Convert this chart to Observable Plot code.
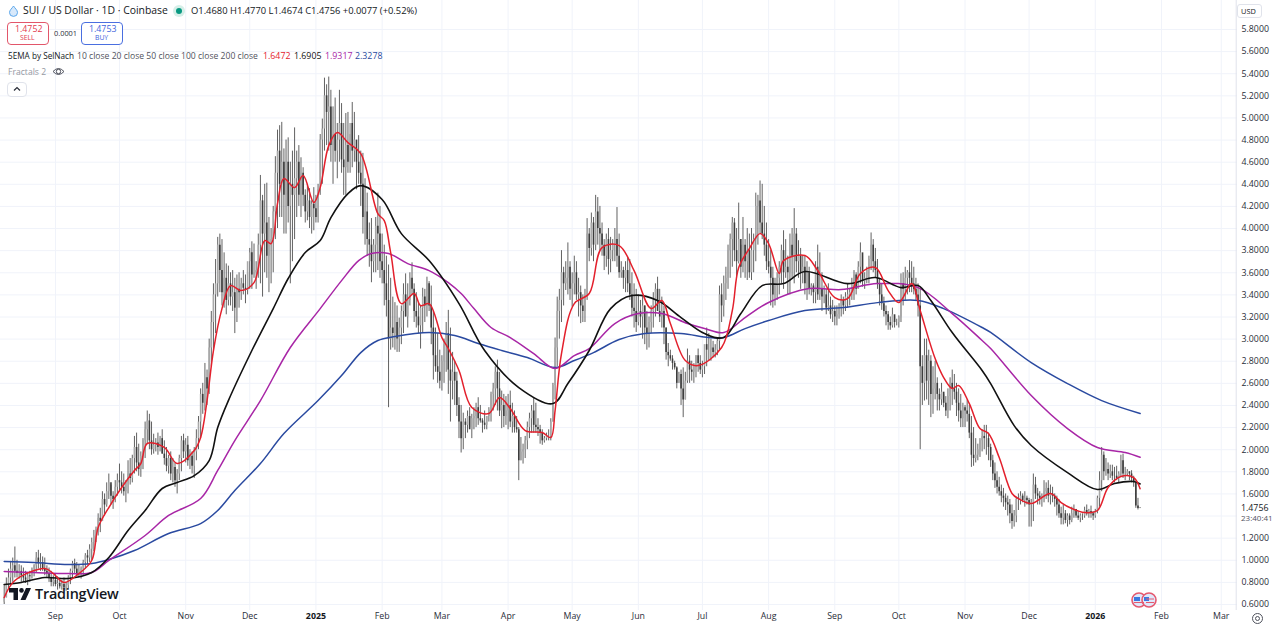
<!DOCTYPE html>
<html><head><meta charset="utf-8">
<script src="https://cdn.jsdelivr.net/npm/d3@7"></script>
<script src="https://cdn.jsdelivr.net/npm/@observablehq/plot@0.6"></script>
<style>
html,body{margin:0;padding:0;background:#fff;width:1280px;height:630px;overflow:hidden}
#wrap{position:relative;width:1280px;height:630px;font-family:"Open Sans","Noto Sans",sans-serif;color:#131722}
#wrap svg.plot{position:absolute;left:0;top:0}
.t{position:absolute;white-space:nowrap;line-height:1}
.box{position:absolute;box-sizing:border-box;border-radius:4px;background:#fff;text-align:center}
</style></head><body><div id="wrap"></div>
<script>
const firstDay = "2024-08-08";
const high = [
.78,.84,.92,.99,1.02,1.12,1.00,.96,.95,.93,
.90,.88,.90,.93,.96,1.07,1.09,1.06,1.03,1.02,
.95,.93,.90,.86,.87,.85,.83,.82,.84,.80,
.86,.92,.99,1.01,.98,.96,.94,1.00,1.06,1.09,
1.14,1.20,1.27,1.30,1.42,1.47,1.62,1.60,1.70,1.78,
1.68,1.62,1.72,1.78,1.87,1.80,1.78,1.72,1.90,1.92,
1.95,2.12,2.15,2.05,1.98,2.10,2.25,2.35,2.32,2.25,
2.14,2.10,2.15,2.12,2.18,2.08,2.02,1.95,1.98,1.92,
1.88,1.82,1.95,2.12,2.14,2.10,2.12,2.00,1.98,2.02,
2.18,2.30,2.55,2.60,2.78,2.72,3.00,3.25,3.50,3.72,
3.92,3.95,3.90,3.78,3.68,3.66,3.60,3.62,3.55,3.58,
3.60,3.55,3.62,3.58,3.60,3.82,3.88,3.86,3.70,3.95,
4.48,4.30,4.40,4.41,4.10,4.00,4.20,4.65,4.89,4.93,
4.96,4.72,4.80,4.82,4.60,4.70,4.91,4.70,4.75,4.64,
4.55,4.35,4.40,4.36,4.25,4.37,4.30,4.40,4.85,4.99,
5.36,5.30,5.37,5.25,5.10,5.18,4.95,5.25,5.13,4.95,
5.04,5.05,4.85,5.14,5.05,4.70,4.84,4.70,4.68,4.45,
4.32,4.05,4.09,3.90,4.10,4.32,4.20,3.95,3.85,3.75,
3.67,3.55,3.38,3.33,3.30,3.19,3.30,3.50,3.59,3.50,
3.60,3.69,3.50,3.42,3.33,3.30,3.46,3.45,3.56,3.52,
3.48,3.25,3.10,3.05,2.90,2.85,3.00,3.15,3.26,3.10,
2.88,2.80,2.70,2.47,2.40,2.33,2.28,2.35,2.38,2.32,
2.38,2.42,2.47,2.40,2.28,2.35,2.30,2.38,2.52,2.60,
2.75,2.81,2.70,2.53,2.50,2.48,2.50,2.53,2.42,2.35,
2.30,2.20,2.11,2.05,2.12,2.25,2.33,2.40,2.47,2.42,
2.28,2.22,2.18,2.12,2.15,2.18,2.28,2.60,3.01,3.38,
3.45,3.80,3.65,3.70,3.87,3.70,3.60,3.75,3.70,3.55,
3.48,3.40,3.45,4.09,4.00,4.14,4.10,4.30,4.28,4.20,
4.05,3.90,3.95,4.00,3.92,3.90,4.00,4.19,3.95,3.70,
3.65,3.70,3.74,3.72,3.60,3.50,3.45,3.40,3.35,3.38,
3.30,3.25,3.20,3.30,3.42,3.50,3.56,3.45,3.38,3.30,
3.10,2.96,2.90,2.85,2.80,2.75,2.70,2.72,2.74,2.70,
2.91,2.85,2.80,2.75,2.85,2.91,2.85,2.80,2.78,3.10,
3.05,3.00,2.98,2.95,3.00,3.48,3.50,3.57,3.65,3.85,
3.95,4.10,4.09,4.00,4.23,3.85,4.10,3.90,4.00,3.95,
4.00,3.95,4.32,4.30,4.43,4.40,4.20,4.05,3.90,3.80,
3.65,3.55,3.60,3.70,3.85,3.98,3.90,3.75,3.95,4.00,
4.18,4.00,3.89,3.82,3.75,3.75,3.70,3.65,3.50,3.50,
3.70,3.85,3.78,3.60,3.48,3.45,3.50,3.38,3.35,3.30,
3.30,3.32,3.40,3.38,3.42,3.50,3.45,3.55,3.62,3.60,
3.70,3.87,3.75,3.60,3.65,3.75,3.96,3.90,3.82,3.72,
3.55,3.50,3.38,3.30,3.25,3.20,3.28,3.20,3.18,3.21,
3.59,3.60,3.65,3.62,3.71,3.70,3.65,3.55,3.50,3.46,
2.85,3.00,3.00,2.90,2.85,2.75,2.80,2.65,2.55,2.60,
2.50,2.48,2.55,2.65,2.72,2.68,2.60,2.55,2.50,2.42,
2.40,2.45,2.40,2.30,2.20,2.10,2.05,2.10,2.18,2.22,
2.22,2.15,2.05,1.95,1.88,1.80,1.75,1.68,1.65,1.60,
1.58,1.55,1.50,1.45,1.57,1.60,1.62,1.60,1.62,1.58,
1.56,1.55,1.78,1.75,1.65,1.62,1.60,1.72,1.70,1.72,
1.68,1.66,1.60,1.58,1.55,1.48,1.50,1.45,1.42,1.42,
1.48,1.50,1.46,1.44,1.42,1.42,1.48,1.50,1.46,1.49,
1.44,1.46,1.58,1.80,2.02,1.98,1.92,1.88,1.86,1.86,
1.84,1.85,1.80,1.95,1.96,1.84,1.82,1.80,1.81,1.76,
1.70,1.56,1.477];
const low = [
.60,.66,.74,.76,.80,.84,.84,.83,.80,.80,
.79,.77,.80,.83,.85,.88,.92,.90,.90,.86,
.84,.80,.76,.76,.76,.73,.74,.73,.73,.72,
.74,.78,.84,.88,.85,.84,.83,.86,.92,.96,
.98,1.00,1.08,1.16,1.22,1.25,1.38,1.40,1.48,1.55,
1.50,1.46,1.52,1.58,1.62,1.60,1.58,1.52,1.60,1.68,
1.70,1.78,1.80,1.76,1.75,1.82,1.92,2.05,2.00,1.95,
1.96,1.98,1.95,1.98,1.96,1.86,1.80,1.78,1.72,1.70,
1.66,1.60,1.72,1.80,1.92,1.88,1.85,1.82,1.78,1.74,
1.90,2.00,2.10,2.32,2.35,2.40,2.50,2.75,2.90,3.05,
3.38,3.42,3.30,3.28,3.22,3.30,3.30,3.25,3.05,3.15,
3.28,3.35,3.40,3.32,3.40,3.45,3.45,3.55,3.45,3.55,
3.50,3.38,3.60,3.55,3.42,3.50,3.60,3.90,4.00,4.10,
4.10,3.95,3.95,4.05,3.50,3.70,3.90,4.10,4.20,4.10,
4.20,4.05,4.07,4.00,3.95,3.98,4.05,4.05,4.30,4.40,
4.70,4.75,4.70,4.60,4.40,4.60,4.45,4.60,4.50,4.30,
4.30,4.50,4.50,4.55,4.60,4.35,4.40,4.20,3.95,3.85,
3.75,3.65,3.51,3.60,3.60,3.62,3.55,3.50,3.30,3.20,
2.38,2.90,2.92,2.90,2.88,2.88,2.95,3.05,3.20,3.10,
3.30,3.40,3.15,3.10,3.05,2.91,3.05,3.15,3.20,3.25,
2.95,2.63,2.70,2.60,2.55,2.53,2.60,2.70,2.50,2.25,
2.45,2.40,2.30,2.10,1.97,2.00,2.10,2.15,2.20,2.10,
2.18,2.20,2.22,2.24,2.15,2.18,2.18,2.25,2.25,2.35,
2.40,2.35,2.30,2.19,2.20,2.22,2.18,2.20,2.15,2.15,
2.15,1.72,1.90,1.87,1.92,2.00,2.10,2.15,2.15,2.15,
2.12,2.05,2.04,2.06,2.08,2.08,2.08,2.25,2.45,2.75,
3.00,3.15,3.30,3.44,3.40,3.35,3.29,3.40,3.35,3.20,
3.14,3.15,3.15,3.35,3.70,3.75,3.70,3.80,3.85,3.80,
3.75,3.62,3.65,3.58,3.60,3.70,3.70,3.65,3.55,3.55,
3.45,3.42,3.42,3.35,3.20,3.10,3.06,3.12,3.10,3.00,
2.95,2.90,2.92,3.05,3.10,3.20,3.28,3.15,3.10,2.95,
2.81,2.75,2.80,2.72,2.72,2.55,2.60,2.40,2.29,2.45,
2.60,2.60,2.62,2.60,2.65,2.70,2.68,2.65,2.68,2.75,
2.80,2.80,2.83,2.83,2.85,2.90,3.15,3.20,3.35,3.45,
3.55,3.65,3.70,3.55,3.68,3.55,3.60,3.55,3.53,3.55,
3.53,3.60,3.70,3.85,3.95,3.90,3.75,3.62,3.59,3.30,
3.28,3.30,3.35,3.40,3.50,3.45,3.55,3.40,3.40,3.55,
3.50,3.60,3.55,3.45,3.50,3.40,3.35,3.40,3.39,3.32,
3.32,3.35,3.35,3.25,3.32,3.22,3.25,3.18,3.15,3.12,
3.12,3.18,3.20,3.22,3.25,3.28,3.30,3.35,3.35,3.40,
3.45,3.50,3.47,3.45,3.50,3.50,3.62,3.60,3.55,3.45,
3.30,3.26,3.20,3.12,3.08,3.08,3.10,3.10,3.12,3.10,
3.15,3.30,3.35,3.40,3.42,3.42,3.40,3.35,3.20,2.00,
2.40,2.44,2.45,2.40,2.29,2.32,2.45,2.35,2.35,2.40,
2.38,2.30,2.28,2.35,2.40,2.45,2.30,2.25,2.20,2.20,
2.20,2.25,2.10,1.84,1.85,1.88,1.90,1.93,1.98,2.00,
1.95,1.90,1.84,1.72,1.65,1.60,1.58,1.52,1.48,1.45,
1.40,1.33,1.28,1.30,1.34,1.45,1.50,1.52,1.48,1.50,
1.30,1.30,1.35,1.55,1.50,1.50,1.48,1.52,1.55,1.52,
1.50,1.52,1.48,1.40,1.38,1.32,1.32,1.33,1.30,1.32,
1.34,1.38,1.38,1.36,1.34,1.36,1.38,1.40,1.38,1.38,
1.36,1.38,1.42,1.48,1.62,1.72,1.76,1.72,1.74,1.72,
1.70,1.72,1.70,1.75,1.74,1.72,1.76,1.72,1.70,1.66,
1.47,1.455,1.4674];
const close = [
.66,.78,.84,.92,.95,.90,.88,.90,.86,.84,
.82,.86,.85,.92,.95,1.02,.97,.98,.92,.90,
.88,.84,.80,.82,.78,.79,.76,.78,.75,.77,
.84,.90,.97,.92,.88,.90,.92,.98,1.04,1.02,
1.10,1.16,1.22,1.28,1.38,1.35,1.55,1.50,1.62,1.70,
1.58,1.55,1.66,1.72,1.70,1.66,1.62,1.70,1.78,1.74,
1.92,2.02,1.88,1.82,1.94,2.08,2.18,2.26,2.08,2.00,
2.04,2.06,2.02,2.10,1.96,1.92,1.85,1.92,1.78,1.84,
1.72,1.78,1.92,2.08,1.98,2.04,1.90,1.94,1.85,1.98,
2.10,2.25,2.50,2.42,2.65,2.55,2.92,3.15,3.40,3.50,
3.85,3.62,3.42,3.55,3.35,3.50,3.38,3.42,3.28,3.45,
3.42,3.50,3.46,3.44,3.70,3.78,3.58,3.60,3.62,3.85,
4.25,3.95,4.05,3.75,3.85,3.90,4.15,4.50,4.70,4.40,
4.60,4.30,4.60,4.20,4.40,4.30,4.45,4.60,4.30,4.50,
4.30,4.15,4.25,4.10,4.22,4.18,4.10,4.35,4.80,4.90,
5.20,5.05,5.10,4.75,4.85,4.70,4.80,4.95,4.62,4.55,
4.75,4.60,4.95,4.70,4.80,4.60,4.50,4.40,4.10,4.15,
3.90,3.85,3.70,3.85,4.02,3.95,3.70,3.62,3.50,3.35,
3.00,3.10,3.05,3.15,3.00,3.10,3.25,3.40,3.20,3.35,
3.55,3.45,3.25,3.20,3.12,3.28,3.38,3.30,3.50,3.30,
3.10,2.85,2.75,2.70,2.62,2.80,2.95,3.05,2.72,2.62,
2.70,2.62,2.40,2.25,2.10,2.25,2.22,2.30,2.18,2.28,
2.30,2.38,2.28,2.26,2.24,2.22,2.30,2.36,2.50,2.55,
2.70,2.55,2.35,2.40,2.30,2.35,2.40,2.25,2.30,2.20,
2.18,1.90,1.98,2.00,2.08,2.20,2.28,2.35,2.22,2.20,
2.18,2.15,2.08,2.10,2.12,2.12,2.25,2.58,2.92,3.25,
3.35,3.60,3.50,3.55,3.65,3.45,3.50,3.60,3.40,3.42,
3.30,3.25,3.38,3.95,3.82,4.05,3.85,4.15,4.00,3.95,
3.85,3.75,3.90,3.72,3.80,3.85,3.90,3.75,3.60,3.62,
3.55,3.62,3.50,3.40,3.28,3.25,3.15,3.25,3.20,3.30,
3.10,3.05,3.15,3.25,3.35,3.45,3.25,3.20,3.25,3.10,
2.88,2.85,2.82,2.78,2.74,2.60,2.68,2.55,2.45,2.62,
2.80,2.72,2.70,2.78,2.85,2.78,2.72,2.75,2.95,2.90,
2.90,2.92,2.88,2.90,2.98,3.40,3.30,3.50,3.55,3.80,
3.90,4.05,3.80,3.70,3.90,3.65,3.85,3.70,3.80,3.60,
3.80,3.90,4.20,4.25,4.05,3.95,3.85,3.70,3.65,3.55,
3.40,3.48,3.55,3.65,3.80,3.60,3.65,3.60,3.85,3.75,
3.95,3.70,3.75,3.60,3.65,3.50,3.60,3.45,3.48,3.42,
3.65,3.40,3.45,3.38,3.40,3.28,3.30,3.22,3.25,3.20,
3.22,3.28,3.35,3.30,3.38,3.40,3.42,3.50,3.58,3.45,
3.65,3.78,3.52,3.55,3.62,3.72,3.85,3.70,3.62,3.50,
3.40,3.32,3.25,3.22,3.15,3.12,3.22,3.15,3.15,3.20,
3.50,3.45,3.55,3.60,3.55,3.50,3.45,3.40,3.30,2.75,
2.60,2.85,2.62,2.80,2.50,2.55,2.60,2.50,2.45,2.52,
2.42,2.35,2.48,2.60,2.55,2.52,2.42,2.35,2.28,2.38,
2.35,2.32,2.15,1.95,1.92,1.95,2.00,2.08,2.12,2.10,
2.10,2.02,1.90,1.78,1.72,1.66,1.62,1.58,1.56,1.52,
1.50,1.42,1.35,1.40,1.55,1.55,1.58,1.54,1.56,1.54,
1.50,1.52,1.68,1.60,1.58,1.56,1.58,1.62,1.65,1.58,
1.60,1.58,1.55,1.50,1.42,1.38,1.42,1.36,1.40,1.36,
1.42,1.46,1.40,1.38,1.40,1.40,1.45,1.42,1.44,1.42,
1.40,1.44,1.56,1.72,1.95,1.80,1.82,1.78,1.80,1.76,
1.76,1.74,1.78,1.90,1.78,1.78,1.80,1.78,1.74,1.70,
1.49,1.468,1.4756];

const ema10Days = [0,5,19,23,28,35,41,44,49,55,61,64,67,75,81,89,92,95,98,102,106,111,117,122,125,128,131,136,140,145,148,152,156,161,167,175,178,181,186,192,195,199,205,208,213,219,227,232,237,244,252,256,258,261,267,274,280,288,295,303,308,312,319,325,336,341,344,349,354,358,363,365,375,381,389,395,401,408,414,419,425,429,436,440,444,447,452,457,461,466,472,475,481,490,495,500,506,512,517,523,529,532];
const ema10 = [.663,.817,.926,.88,.799,.88,.998,1.296,1.477,1.658,1.812,1.875,2.056,2.02,1.875,1.992,2.11,2.444,2.897,3.276,3.484,3.439,3.511,3.891,3.864,4.226,4.452,4.37,4.479,4.235,4.37,4.75,4.868,4.777,4.678,4.135,4.072,3.783,3.321,3.412,3.303,3.321,3.014,2.915,2.716,2.381,2.327,2.472,2.372,2.173,2.155,2.11,2.354,2.869,3.321,3.412,3.828,3.846,3.62,3.276,3.349,3.141,2.806,2.761,2.924,3.258,3.647,3.819,3.954,3.864,3.593,3.71,3.756,3.62,3.376,3.367,3.593,3.647,3.439,3.331,3.502,3.258,2.824,2.652,2.553,2.58,2.417,2.191,2.146,1.929,1.604,1.558,1.513,1.604,1.522,1.468,1.432,1.45,1.658,1.757,1.748,1.647];
const ema20Days = [0,8,19,30,41,49,58,66,74,81,89,96,100,105,116,126,133,141,148,153,161,167,177,186,199,213,225,241,257,264,274,284,294,306,317,328,337,345,355,365,375,395,408,420,428,434,444,458,462,473,481,498,512,520,529,532];
const ema20 = [.781,.799,.844,.835,.889,1.025,1.269,1.45,1.649,1.703,1.766,1.902,2.2,2.444,2.897,3.276,3.548,3.783,3.891,4.099,4.316,4.388,4.262,3.954,3.71,3.321,2.897,2.562,2.417,2.598,2.897,3.276,3.394,3.349,3.195,3.05,3.014,3.231,3.484,3.502,3.611,3.502,3.557,3.466,3.484,3.349,3.059,2.716,2.598,2.218,2.038,1.793,1.64,1.694,1.712,1.69];
const ema50Days = [0,14,30,41,49,66,77,92,100,108,120,134,148,158,166,172,180,189,199,208,214,220,228,237,248,258,267,274,286,297,308,320,328,337,347,358,377,392,409,428,444,458,462,481,498,512,525,532];
const ema50 = [.898,.889,.88,.889,.998,1.224,1.405,1.558,1.812,2.083,2.444,2.924,3.276,3.529,3.71,3.774,3.774,3.683,3.62,3.511,3.412,3.276,3.105,3.014,2.869,2.734,2.851,2.915,3.141,3.231,3.231,3.141,3.096,3.059,3.195,3.331,3.457,3.448,3.502,3.466,3.231,2.987,2.915,2.49,2.191,2.02,1.974,1.932];
const ema100Days = [0,14,30,41,49,61,77,92,100,108,120,131,147,158,167,175,183,199,211,222,233,245,258,267,276,288,300,317,330,337,347,358,375,393,409,428,440,458,462,481,498,514,532];
const ema100 = [.989,.98,.962,.971,1.007,1.088,1.242,1.332,1.45,1.631,1.875,2.146,2.444,2.67,2.878,2.987,3.023,3.059,3.032,2.96,2.897,2.833,2.743,2.806,2.878,2.996,3.05,3.05,3.014,3.014,3.095,3.168,3.258,3.285,3.33,3.349,3.276,3.105,3.06,2.788,2.598,2.444,2.328];

const priceTicks = [0.6,0.8,1.0,1.2,1.6,1.8,2.0,2.2,2.4,2.6,2.8,3.0,3.2,3.4,3.6,3.8,4.0,4.2,4.4,4.6,4.8,5.0,5.2,5.4,5.6,5.8];
const gridPrices = [0.6,0.8,1.0,1.2,1.4,1.6,1.8,2.0,2.2,2.4,2.6,2.8,3.0,3.2,3.4,3.6,3.8,4.0,4.2,4.4,4.6,4.8,5.0,5.2,5.4,5.6,5.8];
const monthDates = ["2024-09-01","2024-10-01","2024-11-01","2024-12-01","2025-02-01","2025-03-01","2025-04-01","2025-05-01","2025-06-01","2025-07-01","2025-08-01","2025-09-01","2025-10-01","2025-11-01","2025-12-01","2026-02-01","2026-03-01"];
const monthLabels = ["Sep","Oct","Nov","Dec","Feb","Mar","Apr","May","Jun","Jul","Aug","Sep","Oct","Nov","Dec","Feb","Mar"];
const yearDates = ["2025-01-01","2026-01-01"];
const yearLabels = ["2025","2026"];
const lastOpen = 1.468, lastClose = 1.4756;

const D = s => new Date(s + "T00:00:00Z");
const day = n => new Date(D(firstDay).getTime() + n * 864e5);
const candles = close.map((c, i) => ({
  date: day(i), high: high[i], low: low[i], close: c,
  open: i === close.length - 1 ? lastOpen : (i ? close[i - 1] : 0.62)
}));
const series = (days, vals) => days.map((d, i) => ({date: day(d), v: vals[i]}));
const mDates = monthDates.map(D), yDates = yearDates.map(D);
const line = (days, vals, stroke, w) => Plot.line(series(days, vals), {x: "date", y: "v", stroke, strokeWidth: w, curve: "catmull-rom"});

const chart = Plot.plot({
  width: 1280, height: 630,
  marginLeft: 0, marginRight: 43, marginTop: 0, marginBottom: 20,
  style: {background: "transparent", fontFamily: '"Open Sans","Noto Sans",sans-serif'},
  x: {type: "utc", domain: [day(0), day(577)], range: [3.7, 1235.7]},
  y: {domain: [0.6, 5.8], range: [604, 29]},
  marks: [
    Plot.ruleX([...mDates, ...yDates], {stroke: "#f0f3fa", strokeWidth: 1}),
    Plot.ruleY(gridPrices, {stroke: "#f0f3fa", strokeWidth: 1}),
    Plot.ruleX([day(577)], {stroke: "#e0e3eb", strokeWidth: 1}),
    Plot.ruleX(candles, {x: "date", y1: "low", y2: "high", stroke: "#3a3a3a", strokeWidth: 0.8}),
    Plot.ruleX(candles.filter(d => d.close >= d.open), {x: "date", y1: "open", y2: "close", stroke: "#a8a8a8", strokeWidth: 1.6}),
    Plot.ruleX(candles.filter(d => d.close < d.open), {x: "date", y1: "open", y2: "close", stroke: "#3c3c3c", strokeWidth: 1.6}),
    line(ema100Days, ema100, "#2a4aa0", 1.5),
    line(ema50Days, ema50, "#a826a6", 1.5),
    line(ema20Days, ema20, "#111111", 1.6),
    line(ema10Days, ema10, "#e3202c", 1.5),
    Plot.axisY({anchor: "right", ticks: priceTicks, tickSize: 0, tickPadding: 4, tickFormat: d => d.toFixed(4), fontSize: 8.8, fill: "#2a2e39", textAnchor: "start", label: null}),
    Plot.axisX({anchor: "bottom", ticks: mDates, tickSize: 0, tickPadding: 2, tickFormat: d => monthLabels[mDates.findIndex(m => +m === +d)], fontSize: 8.8, fill: "#2a2e39", label: null}),
    Plot.axisX({anchor: "bottom", ticks: yDates, tickSize: 0, tickPadding: 2, tickFormat: d => yearLabels[yDates.findIndex(m => +m === +d)], fontSize: 8.8, fontWeight: 700, fill: "#131722", label: null})
  ]
});
const wrap = document.getElementById("wrap");
wrap.appendChild(chart);

function t(x, y, s, size, color, extra = "") {
  wrap.insertAdjacentHTML("beforeend", `<div class="t" style="left:${x}px;top:${y}px;font-size:${size}px;color:${color};${extra}">${s}</div>`);
}
// header
wrap.insertAdjacentHTML("beforeend", `<svg style="position:absolute;left:8px;top:5px" width="11" height="12" viewBox="0 0 11 12"><path d="M5.5 1 C7 3.5 9.5 5 9.5 7.6 A4 3.8 0 0 1 1.5 7.6 C1.5 5 4 3.5 5.5 1Z" fill="#d8e9fb" stroke="#5aa7ec" stroke-width="1"/></svg>`);
t(23, 5, "SUI / US Dollar · 1D · Coinbase", 10.4, "#131722");
wrap.insertAdjacentHTML("beforeend", `<div style="position:absolute;left:173px;top:5px;width:12px;height:12px;border-radius:50%;background:#d6efe8"></div><div style="position:absolute;left:176px;top:8px;width:6px;height:6px;border-radius:50%;background:#089981"></div>`);
t(191, 6, "O1.4680 H1.4770 L1.4674 C1.4756 +0.0077 (+0.52%)", 9.4, "#131722");
wrap.insertAdjacentHTML("beforeend", `<div class="box" style="left:7px;top:22px;width:42px;height:23px;border:1px solid #e2566a"></div><div class="box" style="left:81px;top:22px;width:42px;height:23px;border:1px solid #4a6fe0"></div>`);
t(15, 24.5, "1.4752", 8.8, "#e2394e");
t(20, 35, "SELL", 6.8, "#e2394e");
t(89, 24.5, "1.4753", 8.8, "#3e64dc");
t(95, 35, "BUY", 6.8, "#3e64dc");
t(54, 29.5, "0.0001", 7.4, "#2a2e39");
t(8, 51.5, "5EMA by SelNach", 8.2, "#131722");
t(77, 51.5, "10 close 20 close 50 close 100 close 200 close", 8.6, "#50535e");
t(263, 51.5, "1.6472", 8.8, "#e3202c");
t(294, 51.5, "1.6905", 8.8, "#111");
t(325, 51.5, "1.9317", 8.8, "#a826a6");
t(355, 51.5, "2.3278", 8.8, "#2a4aa0");
t(8, 67.5, "Fractals 2", 8.6, "#9598a1");
wrap.insertAdjacentHTML("beforeend", `<svg style="position:absolute;left:52px;top:66px" width="13" height="11" viewBox="0 0 13 11"><path d="M1 5.5 Q6.5 -0.5 12 5.5 Q6.5 11.5 1 5.5Z" fill="none" stroke="#50535e"/><circle cx="6.5" cy="5.5" r="2.2" fill="none" stroke="#50535e"/></svg>`);
wrap.insertAdjacentHTML("beforeend", `<div class="box" style="left:7px;top:82px;width:20px;height:15px;border:1px solid #e0e3eb"></div><svg style="position:absolute;left:12px;top:85px" width="10" height="8" viewBox="0 0 10 8"><path d="M2 5.5 L5 2.5 L8 5.5" fill="none" stroke="#2a2e39" stroke-width="1.2"/></svg>`);
// right side
wrap.insertAdjacentHTML("beforeend", `<div class="box" style="left:1237px;top:4px;width:25px;height:14px;border:1px solid #e0e3eb;border-radius:3px;"></div>`);
t(1241, 7.5, "USD", 7.4, "#131722");
t(1241, 503.5, "1.4756", 8.8, "#131722");
t(1241, 514, "23:40:41", 8, "#50535e");
wrap.insertAdjacentHTML("beforeend", `<svg style="position:absolute;left:1251px;top:612px" width="13" height="13" viewBox="0 0 13 13"><circle cx="6.5" cy="6.5" r="5" fill="none" stroke="#50535e"/><circle cx="6.5" cy="6.5" r="2" fill="none" stroke="#50535e"/></svg>`);
// logo
wrap.insertAdjacentHTML("beforeend", `<svg style="position:absolute;left:9px;top:588px" width="22" height="13" viewBox="0 0 22 13"><path d="M0 0H9V12H4.5V4.5H0Z M17 0H22L16.5 12H11.5Z" fill="#131722"/><circle cx="12.5" cy="2.4" r="2.3" fill="#131722"/></svg>`);
t(35, 587, "TradingView", 14.4, "#131722", "font-weight:600;letter-spacing:-0.2px;");
// event flags
wrap.insertAdjacentHTML("beforeend", `<svg style="position:absolute;left:1131px;top:592px" width="27" height="16" viewBox="0 0 27 16"><circle cx="8" cy="8" r="7" fill="#dfe8fb" stroke="#e5596f" stroke-width="1.6"/><circle cx="18" cy="8" r="7" fill="#dfe8fb" stroke="#e5596f" stroke-width="1.6"/><rect x="3" y="5" width="6" height="4" fill="#3a78e0"/><rect x="13" y="5" width="5" height="4" fill="#3a78e0"/><path d="M3 10.5H13M15 10.5H23M15 7H23" stroke="#e5596f"/></svg>`);
</script></body></html>
